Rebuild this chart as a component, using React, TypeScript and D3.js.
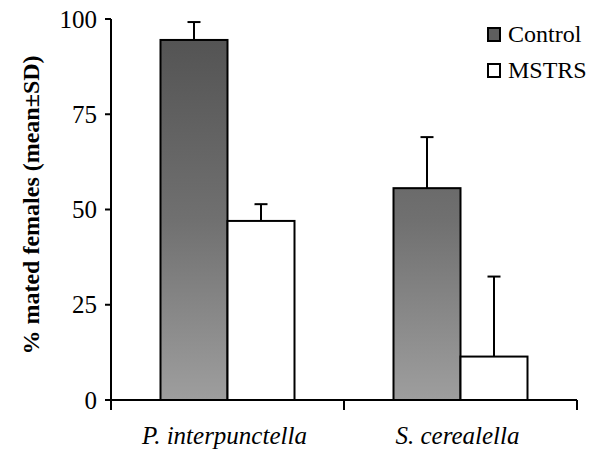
import React from 'react';
import * as d3 from 'd3';

const categories = ['P. interpunctella', 'S. cerealella'];
const seriesNames = ['Control', 'MSTRS'];
const controlMean = [94.5, 55.6];
const controlSD = [4.7, 13.4];
const mstrsMean = [47, 11.4];
const mstrsSD = [4.4, 21];
const yTicks = [0, 25, 50, 75, 100];

const width = 602;
const height = 454;
const margin = { top: 19, right: 25, bottom: 54, left: 111 };
const font = 'Liberation Serif, Times New Roman, serif';

export default function App() {
  const x0 = d3.scaleBand<string>()
    .domain(categories)
    .range([margin.left, width - margin.right])
    .padding(0);

  const inner = 134;
  const x1 = d3.scaleBand<string>().domain(seriesNames).range([0, inner]);

  const y = d3.scaleLinear()
    .domain([0, 100])
    .range([height - margin.bottom, margin.top]);

  const rows = categories.map((c, i) => ({
    cat: c,
    values: [
      { key: 'Control', mean: controlMean[i], sd: controlSD[i] },
      { key: 'MSTRS', mean: mstrsMean[i], sd: mstrsSD[i] },
    ],
  }));

  const bounds = [...categories.map(c => x0(c)!), width - margin.right];

  return (
    <svg width={width} height={height} fontFamily={font} style={{ position: 'absolute', left: 0, top: 0 }}>
      <defs>
        <linearGradient id="ctrlGrad" gradientUnits="userSpaceOnUse" x1={0} x2={0} y1={40} y2={400}>
          <stop offset="0%" stopColor="#545454" />
          <stop offset="50%" stopColor="#707070" />
          <stop offset="100%" stopColor="#9e9e9e" />
        </linearGradient>
      </defs>

      {rows.map(r => {
        const gx = x0(r.cat)! + (x0.bandwidth() - inner) / 2;
        return (
          <g key={r.cat} transform={`translate(${gx},0)`}>
            {r.values.map(v => {
              const cx = x1(v.key)! + x1.bandwidth() / 2;
              return (
                <g key={v.key}>
                  <line x1={cx} x2={cx} y1={y(v.mean)} y2={y(v.mean + v.sd)} stroke="#000" strokeWidth={2} />
                  <line x1={cx - 6.5} x2={cx + 6.5} y1={y(v.mean + v.sd)} y2={y(v.mean + v.sd)} stroke="#000" strokeWidth={2} />
                  <rect
                    x={x1(v.key)!}
                    y={y(v.mean)}
                    width={x1.bandwidth()}
                    height={y(0) - y(v.mean)}
                    fill={v.key === 'Control' ? 'url(#ctrlGrad)' : '#fff'}
                    stroke="#000"
                    strokeWidth={2}
                  />
                </g>
              );
            })}
          </g>
        );
      })}

      {/* y axis */}
      <line x1={margin.left} x2={margin.left} y1={y(100)} y2={y(0)} stroke="#000" strokeWidth={2} />
      {yTicks.map(t => (
        <g key={t} transform={`translate(${margin.left},${y(t)})`}>
          <line x1={-6} x2={0} stroke="#000" strokeWidth={2} />
          <text x={-14} dy="0.34em" textAnchor="end" fontFamily={font} fontSize={25} fill="#000">
            {t}
          </text>
        </g>
      ))}

      {/* x axis */}
      <line x1={margin.left - 6} x2={width - margin.right} y1={y(0)} y2={y(0)} stroke="#000" strokeWidth={2} />
      {bounds.map((b, i) => (
        <line key={i} x1={b} x2={b} y1={y(0)} y2={y(0) + 10} stroke="#000" strokeWidth={2} />
      ))}
      {categories.map(c => (
        <text
          key={c}
          x={x0(c)! + x0.bandwidth() / 2 - 3}
          y={444}
          textAnchor="middle"
          fontFamily={font}
          fontStyle="italic"
          fontSize={25}
          fill="#000"
        >
          {c}
        </text>
      ))}

      {/* y label */}
      <text
        transform="translate(39,205) rotate(-90)"
        textAnchor="middle"
        fontFamily={font}
        fontWeight="bold"
        fontSize={24}
        fill="#000"
      >
        % mated females (mean±SD)
      </text>

      {/* legend */}
      {seriesNames.map((name, i) => (
        <g key={name} transform={`translate(488,${28 + i * 36})`}>
          <rect x={0} y={0} width={12} height={13} fill={name === 'Control' ? '#5e5e5e' : '#fff'} stroke="#000" strokeWidth={2} />
          <text x={20} y={14} fontFamily={font} fontSize={24} fill="#000">
            {name}
          </text>
        </g>
      ))}
    </svg>
  );
}
